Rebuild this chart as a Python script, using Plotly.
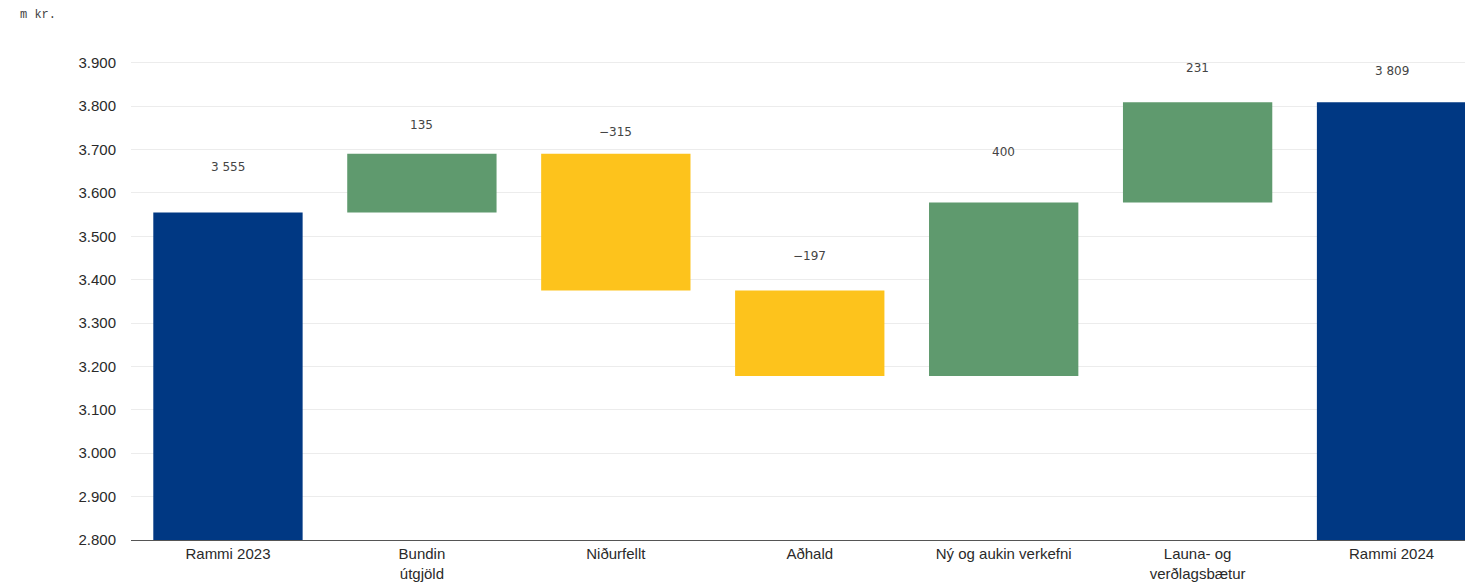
import plotly.graph_objects as go

categories = ["Rammi 2023", "Bundin<br>útgjöld", "Niðurfellt", "Aðhald",
              "Ný og aukin verkefni", "Launa- og<br>verðlagsbætur", "Rammi 2024"]
values = [3555, 135, -315, -197, 400, 231, 3809]
measures = ["absolute", "relative", "relative", "relative", "relative", "relative", "total"]
value_labels = ["3 555", "135", "−315", "−197", "400", "231", "3 809"]
y_ticks = [2800, 2900, 3000, 3100, 3200, 3300, 3400, 3500, 3600, 3700, 3800, 3900]

# pixel shift of value labels above each bar top (styling)
label_shift = [45, 29, 22, 35, 50, 34, 31]

NAVY = "#003883"
GREEN = "#5f9a6e"
YELLOW = "#fdc31c"

fig = go.Figure(go.Waterfall(
    x=list(range(len(categories))),
    y=values,
    measure=measures,
    width=0.77,
    increasing=dict(marker=dict(color=GREEN)),
    decreasing=dict(marker=dict(color=YELLOW)),
    totals=dict(marker=dict(color=NAVY)),
    connector=dict(visible=False),
    hoverinfo="skip",
))

# compute bar tops for labels
tops = []
running = 0
for v, m in zip(values, measures):
    if m == "absolute":
        running = v
        tops.append(v)
    elif m == "total":
        tops.append(running)
    else:
        prev = running
        running += v
        tops.append(max(prev, running))

for i, (t, lab, s) in enumerate(zip(tops, value_labels, label_shift)):
    fig.add_annotation(x=i, y=t, text=lab, showarrow=False, yshift=s,
                       font=dict(family="DejaVu Sans", size=12, color="#444444"))

fig.add_annotation(xref="paper", yref="paper", x=0, y=1, xanchor="left", yanchor="middle",
                   xshift=-113, yshift=26,
                   text="m kr.", showarrow=False,
                   font=dict(family="Liberation Mono", size=12, color="#444444"))

fig.update_layout(
    width=1465, height=579,
    margin=dict(l=123, r=0, t=33, b=47),
    plot_bgcolor="white", paper_bgcolor="white",
    separators=",.",
    showlegend=False,
    font=dict(family="Liberation Sans, Arial", size=15, color="#2a2a2a"),
    xaxis=dict(
        tickmode="array", tickvals=list(range(len(categories))), ticktext=categories,
        range=[-0.5, 6.42], showgrid=False, showline=True, linecolor="#555555",
        linewidth=1, ticks="", tickfont=dict(size=15, color="#2a2a2a"),
    ),
    yaxis=dict(
        range=[2800, 3950], tickvals=y_ticks, tickformat=",d",
        showgrid=True, gridcolor="#ececec", gridwidth=1, zeroline=False,
        showline=False, ticks="", ticklabelstandoff=14,
        tickfont=dict(size=15, color="#2a2a2a"),
    ),
)

fig.write_html("out.html")
